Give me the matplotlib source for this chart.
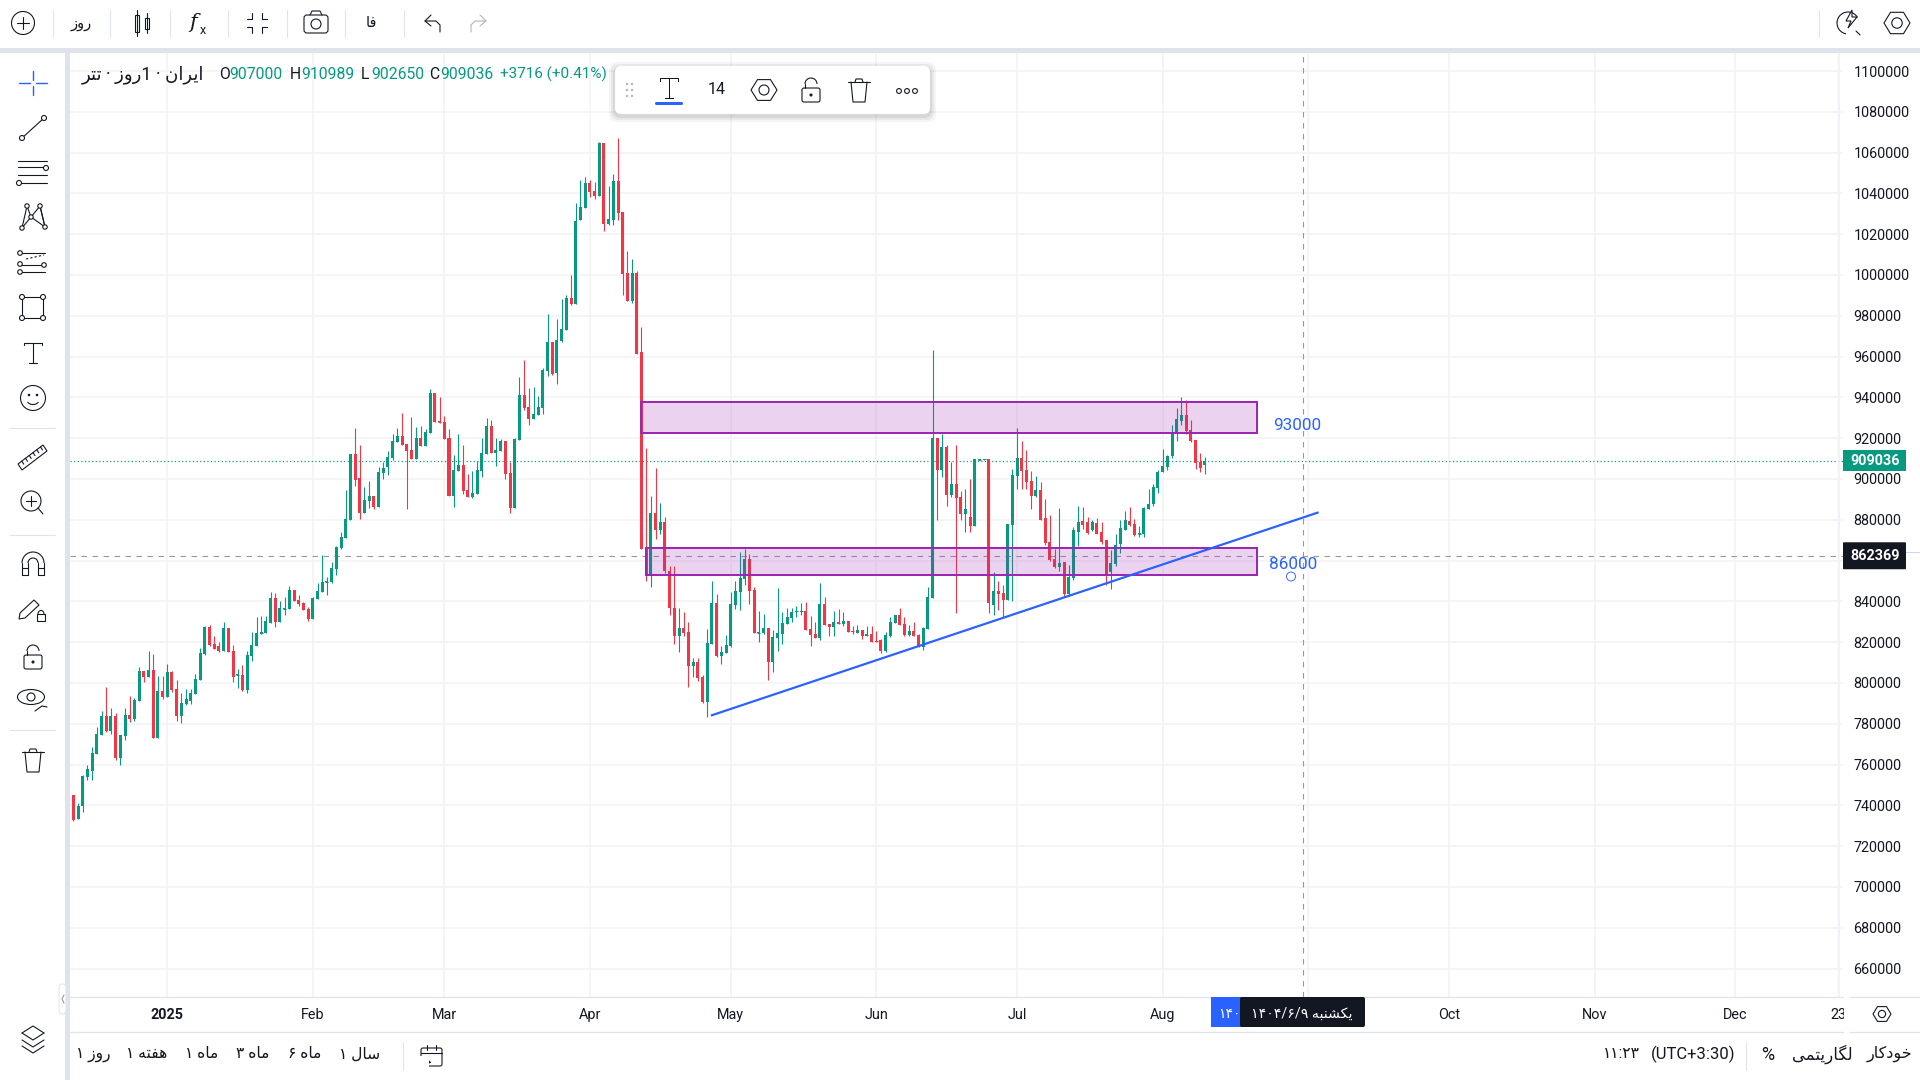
import matplotlib
matplotlib.use("Agg")
import matplotlib.pyplot as plt
from matplotlib.patches import Arc, Circle, Ellipse, FancyBboxPatch, Polygon, Rectangle
import numpy as np
import pandas as pd

plt.rcParams['font.family'] = ['Roboto', 'DejaVu Sans']

# daily candles, prices in thousands
first_date = "2024-12-11"
opens = [740.2,745.1,733.4,739.5,753.9,756.8,765.2,774.6,783.8,776.4,
         783.8,763.3,774.0,784.3,782.5,791.3,805.9,803.0,806.3,773.0,
         796.0,793.0,805.4,797.1,783.8,789.7,791.3,794.6,801.4,814.2,
         827.5,819.2,818.1,815.8,827.0,815.8,803.8,803.9,796.7,813.3,
         818.1,824.1,824.6,829.5,841.7,830.0,836.3,836.3,845.5,840.8,
         839.2,836.3,831.3,841.2,844.6,849.3,849.6,855.9,866.0,871.2,
         880.0,912.4,900.4,883.1,889.2,891.6,886.2,902.9,905.8,910.3,
         918.2,921.1,917.3,914.2,909.9,920.2,916.3,922.5,942.2,928.3,
         927.9,920.2,891.7,903.9,906.8,894.6,891.3,892.6,903.9,912.2,
         926.0,912.8,913.8,918.6,902.9,885.9,919.2,941.3,935.3,929.5,
         931.4,934.9,952.9,967.3,951.8,967.6,973.1,988.8,985.9,1027.0,
         1032.8,1045.2,1041.1,1038.8,1064.7,1025.0,1027.0,1046.1,1030.8,1001.0,
         987.2,1001.0,962.2,866.5,853.5,883.3,875.0,878.9,854.7,837.0,
         823.1,826.9,825.0,808.3,810.3,802.9,790.8,819.1,839.2,813.2,
         814.9,818.1,838.2,844.6,851.0,860.8,845.6,824.5,824.5,827.0,
         810.3,822.0,824.0,828.9,831.8,834.9,835.0,835.3,826.5,824.0,
         822.0,838.7,828.9,827.4,829.9,828.9,830.4,825.5,824.5,826.0,
         823.0,824.0,820.6,821.0,815.7,823.0,829.4,833.3,828.9,823.5,
         825.5,823.5,817.6,826.5,841.7,920.1,904.4,915.7,892.1,897.5,
         891.2,882.8,881.4,877.0,909.3,909.5,909.8,838.2,845.1,844.1,
         840.7,877.4,901.5,910.3,904.4,899.0,891.7,894.6,880.9,869.1,
         860.8,856.9,859.3,843.6,851.5,874.0,879.4,878.9,875.0,878.4,
         874.0,870.1,854.4,858.3,868.1,875.0,879.4,877.9,873.0,873.0,
         885.3,887.7,895.6,903.4,905.9,911.3,922.5,928.4,931.4,924.0,
         919.1,908.3,907.0]
highs = [745.1,745.1,741.3,755.0,759.7,768.8,778.4,786.3,797.9,787.7,
         785.4,774.6,787.7,793.7,792.6,807.9,805.9,815.8,814.2,803.4,
         803.4,809.3,805.9,801.4,795.1,797.1,797.1,804.5,817.1,828.0,
         828.4,823.0,820.1,830.0,827.0,818.7,806.8,808.8,815.8,825.0,
         832.5,833.0,833.0,844.6,844.2,840.3,842.1,847.5,845.5,843.3,
         839.6,837.2,842.1,849.1,862.8,852.0,859.2,867.1,874.1,894.6,
         912.4,925.0,916.6,896.1,899.0,891.6,905.8,908.3,913.8,922.1,
         925.0,932.4,917.3,930.4,925.6,926.0,924.4,944.2,942.2,940.1,
         930.8,924.6,911.8,922.1,916.7,902.5,903.9,908.9,920.2,929.9,
         928.9,920.2,919.6,918.6,908.3,920.2,950.0,958.3,944.6,945.2,
         940.7,954.5,980.8,967.3,978.5,988.2,990.1,1000.0,1035.3,1046.5,
         1048.1,1046.5,1045.6,1065.1,1064.7,1043.6,1049.4,1067.1,1030.8,1011.8,
         1007.8,1002.0,974.4,915.1,891.7,905.4,888.0,881.2,857.4,857.4,
         836.8,834.9,829.9,812.4,812.4,803.9,826.5,850.0,843.6,818.1,
         823.5,844.6,850.0,864.2,865.7,863.2,847.1,835.3,833.8,827.0,
         825.9,846.6,834.8,836.8,836.8,837.9,839.2,839.7,832.8,829.9,
         849.0,842.1,828.9,835.3,836.3,834.8,830.4,827.9,828.4,826.0,
         827.9,827.9,825.5,821.6,825.0,832.3,833.3,836.8,832.3,828.4,
         829.9,824.0,827.4,847.1,963.2,920.1,922.0,916.7,908.3,916.7,
         894.1,895.1,900.0,909.8,910.0,910.0,909.8,854.4,850.0,848.0,
         877.9,904.9,925.0,918.6,914.2,903.9,901.5,898.5,890.2,882.3,
         865.7,885.8,859.3,857.8,876.5,886.8,886.3,881.4,879.9,880.9,
         878.9,870.1,865.2,873.0,879.9,884.3,886.3,880.4,876.9,886.3,
         895.1,897.5,904.4,914.7,911.8,926.5,934.8,940.2,938.7,928.9,
         919.1,912.8,910.989]
lows = [740.2,732.3,733.4,736.8,752.6,752.6,765.2,774.6,775.9,775.1,
        762.2,759.7,772.1,780.9,781.4,791.3,800.5,803.0,773.0,773.0,
        792.1,793.0,795.8,781.4,780.5,789.2,789.7,794.6,801.4,813.5,
        818.3,816.7,815.1,815.8,815.1,800.5,797.6,796.2,795.1,810.8,
        818.1,824.1,824.6,829.5,827.5,830.0,833.4,836.3,840.1,837.9,
        835.8,830.4,831.3,841.2,844.6,843.3,849.1,852.9,865.5,871.2,
        879.9,896.6,880.6,883.1,885.6,885.3,886.2,900.0,901.9,909.3,
        918.2,916.7,885.3,909.9,909.9,916.3,916.3,922.5,927.9,927.3,
        919.6,891.7,886.2,903.9,892.6,891.3,890.7,892.6,901.0,912.2,
        912.8,906.4,913.8,900.0,883.5,885.9,919.2,933.9,926.6,929.5,
        931.4,931.8,950.6,950.9,946.5,967.3,973.1,985.3,985.9,1027.0,
        1032.8,1038.2,1037.2,1038.8,1021.5,1024.4,1024.4,1027.0,990.1,987.2,
        986.2,961.3,865.7,850.0,847.1,870.6,873.1,854.1,833.5,819.2,
        815.3,823.1,798.0,802.8,801.0,790.0,783.3,819.1,812.6,809.3,
        814.9,817.5,836.3,835.8,848.0,838.7,824.5,820.1,824.0,801.5,
        805.4,815.7,819.1,828.9,829.9,832.3,833.3,826.0,818.1,822.0,
        821.0,828.4,823.0,823.0,828.9,827.9,825.0,824.0,824.5,821.6,
        823.0,820.1,820.1,814.7,815.2,822.5,829.4,828.4,823.0,823.0,
        823.0,817.6,816.2,826.5,841.7,879.9,901.0,886.8,891.2,834.3,
        879.9,874.0,874.0,877.0,909.3,909.5,834.3,833.3,835.8,832.3,
        840.7,840.2,895.1,895.1,895.1,885.3,891.2,879.9,867.6,859.8,
        856.4,854.9,842.1,842.6,850.5,867.1,875.5,873.0,874.5,873.0,
        868.1,848.0,846.1,857.4,863.7,875.0,876.9,872.0,871.6,871.6,
        885.3,886.8,893.1,903.4,904.4,910.3,918.6,926.5,922.0,918.1,
        904.9,903.4,902.65]
closes = [745.1,733.0,739.7,754.3,757.9,765.6,775.1,783.8,776.4,783.8,
          763.3,774.6,784.3,782.5,791.7,805.9,803.0,806.3,773.0,796.0,
          793.0,805.4,796.7,783.8,790.1,792.1,795.1,802.0,814.7,827.5,
          818.7,816.7,815.8,827.0,815.1,803.0,804.2,796.7,813.8,818.7,
          824.6,825.0,830.4,841.7,830.0,836.7,836.7,845.5,840.1,838.8,
          835.8,831.3,841.7,845.1,849.6,849.8,856.3,866.6,871.6,880.4,
          912.4,899.7,883.1,889.6,891.6,886.2,903.4,905.4,910.9,918.6,
          921.1,916.7,913.8,909.9,920.2,916.3,923.1,942.2,927.9,927.7,
          919.6,891.7,904.5,906.8,894.2,891.3,893.2,904.5,912.8,926.0,
          912.8,914.2,918.6,902.5,885.9,919.6,941.3,934.7,929.5,931.8,
          935.3,953.5,967.3,951.4,968.2,973.5,988.8,985.9,1026.6,1033.3,
          1045.2,1040.7,1038.8,1064.7,1025.0,1027.5,1046.1,1030.4,1000.6,987.2,
          1001.0,961.3,865.7,852.7,883.3,875.0,878.9,854.7,837.0,823.1,
          826.9,824.6,808.3,810.3,802.3,790.5,819.6,839.2,813.2,815.2,
          818.6,838.7,845.1,851.5,860.8,845.1,824.5,825.0,827.0,810.3,
          822.5,824.5,829.4,832.3,834.8,835.3,835.3,826.0,823.5,822.0,
          838.7,828.4,827.4,829.9,828.9,830.4,825.0,825.0,826.0,823.0,
          824.0,820.1,820.1,815.7,823.5,829.9,833.3,828.4,823.5,825.5,
          823.0,817.6,826.9,842.1,920.1,904.4,915.7,892.1,897.5,890.7,
          882.8,885.3,877.0,909.8,909.8,909.8,839.2,845.1,843.6,840.7,
          877.9,902.0,910.3,903.9,898.5,891.7,894.6,879.9,868.6,860.3,
          856.9,858.8,843.6,851.9,875.0,878.9,877.4,873.5,878.9,873.0,
          869.1,852.4,858.8,867.6,876.0,879.9,877.4,872.5,873.5,885.8,
          887.7,896.1,903.4,906.4,911.3,922.5,929.4,931.4,923.5,918.6,
          907.8,905.32,909.036]

price_ticks = list(range(660000, 1100001, 20000))
month_dates = ["2025-01-01", "2025-02-01", "2025-03-01", "2025-04-01", "2025-05-01", "2025-06-01", "2025-07-01",
               "2025-08-01", "2025-09-01", "2025-10-01", "2025-11-01", "2025-12-01", "2025-12-23"]
# Sep sits under the crosshair date tag, so only its grid line shows
month_labels = ["2025", "Feb", "Mar", "Apr", "May", "Jun", "Jul", "Aug", "", "Oct", "Nov", "Dec", "23"]

# drawings on the chart: zones as (left, right, low, high), trend line as two anchors
upper_zone = ("2025-04-12", "2025-08-21", 922500, 937900)
lower_zone = ("2025-04-13", "2025-08-21", 852900, 866300)
trend_dates = ["2025-04-27", "2025-09-03"]
trend_prices = [784200, 883500]
crosshair_date = "2025-08-31"
crosshair_price = 862369

GREEN = "#089981"
RED = "#F23645"
BLUE = "#2962FF"
PURPLE = "#9C27B0"
INK = "#131722"
BAND = "#E0E3EB"
GRID = "#F2F3F6"
PX = 0.72  # one pixel in points at dpi 100

base = pd.Timestamp("2025-01-01")


def day(date):
    return (pd.Timestamp(date) - base).days


# minimal Persian shaping, strings are then laid out left to right
DUAL = {'ب': 0xFE8F, 'ت': 0xFE95, 'خ': 0xFEA5, 'س': 0xFEB1, 'ش': 0xFEB5, 'ف': 0xFED1, 'ک': 0xFB8E,
        'گ': 0xFB92, 'ل': 0xFEDD, 'م': 0xFEE1, 'ن': 0xFEE5, 'ه': 0xFEE9, 'ی': 0xFBFC}
RIGHT = {'ا': 0xFE8D, 'د': 0xFEA9, 'ر': 0xFEAD, 'ز': 0xFEAF, 'و': 0xFEED}


def fa(text):
    out = []
    for i, ch in enumerate(text):
        if ch not in DUAL and ch not in RIGHT:
            out.append(ch)
            continue
        before = i > 0 and text[i - 1] in DUAL
        after = ch in DUAL and i + 1 < len(text) and (text[i + 1] in DUAL or text[i + 1] in RIGHT)
        form = {(False, False): 0, (True, False): 1, (False, True): 2, (True, True): 3}[(before, after)]
        out.append(chr((DUAL.get(ch) or RIGHT[ch]) + form))
    return "".join(reversed(out))


o = np.array(opens) * 1000
h = np.array(highs) * 1000
l = np.array(lows) * 1000
c = np.array(closes) * 1000
x = (pd.date_range(first_date, periods=len(o)) - base).days.to_numpy()
up = c >= o

fig = plt.figure(figsize=(19.2, 10.8), dpi=100, facecolor="white")
# pane is 70..1843 px wide and 53..997 px tall
ax = fig.add_axes([70 / 1920, 1 - 997 / 1080, (1843 - 70) / 1920, (997 - 53) / 1080])
ax.set_xlim((70 - 167.3) / 4.695, (1843 - 167.3) / 4.695)
ax.set_ylim(1100000 - (997 - 71) * 490.2, 1100000 + (71 - 53) * 490.2)
for s in ax.spines.values():
    s.set_visible(False)
ax.grid(True, color=GRID, lw=1.5 * PX)
ax.set_axisbelow(True)
ax.yaxis.tick_right()
ax.set_yticks(price_ticks)
# the 860000 label sits under the crosshair price tag
ax.set_yticklabels(["" if p == 860000 else str(p) for p in price_ticks], fontsize=10.4, color=INK)
ax.set_xticks([day(d) for d in month_dates])
ax.set_xticklabels(month_labels, fontsize=10.4, color=INK)
ax.get_xticklabels()[0].set_fontweight("bold")
ax.tick_params(length=0)
ax.tick_params(axis="y", pad=7.5)
ax.tick_params(axis="x", pad=8)

# candles
colors = np.where(up, GREEN, RED)
ax.vlines(x, l, h, colors=colors, lw=1.1 * PX, zorder=3)
ax.bar(x, np.abs(c - o), bottom=np.minimum(o, c), width=0.64, color=colors, lw=0, zorder=3)
thin = np.abs(c - o) < 1500
ax.hlines((o[thin] + c[thin]) / 2, x[thin] - 0.32, x[thin] + 0.32, colors=colors[thin], lw=1.1 * PX, zorder=3)

# last price and crosshair guides
ax.axhline(c[-1], color=GREEN, lw=1.2 * PX, ls=(0, (1, 2)), zorder=2.5)
ax.axhline(crosshair_price, color="#9598A1", lw=1.1 * PX, ls=(0, (5, 5)), zorder=2.5)
ax.axvline(day(crosshair_date), color="#9598A1", lw=1.1 * PX, ls=(0, (5, 5)), zorder=2.5)

# zones and trend line
for left, right, low, high in (upper_zone, lower_zone):
    ax.add_patch(Rectangle((day(left), low), day(right) - day(left), high - low, fc=(0.612, 0.153, 0.69, 0.2),
                           ec=PURPLE, lw=2 * PX, zorder=4))
ax.plot([day(d) for d in trend_dates], trend_prices, color=BLUE, lw=2.2 * PX, zorder=4.5)
ax.text(235.6, 926200, "93000", color=BLUE, fontsize=12.3, va="center", zorder=5)
ax.text(234.6, 858100, "86000", color=BLUE, fontsize=12.3, va="center", zorder=5)

# interface layer in pixel coordinates
ui = fig.add_axes([0, 0, 1, 1], zorder=5)
ui.set_xlim(0, 1920)
ui.set_ylim(1080, 0)
ui.axis("off")
ui.patch.set_alpha(0)


def seg(*pts, color=INK, lw=1.1, ls="-"):
    ui.plot([p[0] for p in pts], [p[1] for p in pts], color=color, lw=lw * PX, ls=ls, solid_capstyle="round")


def ring(cx, cy, r, ec=INK, fc="white", lw=1.1):
    ui.add_patch(Circle((cx, cy), r, ec=ec, fc=fc, lw=lw * PX, zorder=3))


def label(px, py, text, color=INK, size=10.4, ha="center", weight="normal"):
    ui.text(px, py, text, color=color, fontsize=size, ha=ha, va="center", fontweight=weight, zorder=6)


def hexagon(cx, cy, r=12):
    a = np.radians(np.arange(0, 360, 60))
    ui.add_patch(Polygon(np.c_[cx + r * np.cos(a), cy + r * 0.95 * np.sin(a)], fc="none", ec=INK, lw=1.1 * PX))
    ring(cx, cy, r * 0.4, fc="none")


def trash(cx, cy):
    seg((cx - 11, cy - 9), (cx + 11, cy - 9))
    seg((cx - 4, cy - 9), (cx - 3, cy - 12), (cx + 3, cy - 12), (cx + 4, cy - 9))
    seg((cx - 8, cy - 9), (cx - 6, cy + 11), (cx + 6, cy + 11), (cx + 8, cy - 9))


def lock(cx, cy):
    ui.add_patch(FancyBboxPatch((cx - 9, cy - 3), 18, 14, boxstyle="round,pad=0,rounding_size=2",
                                fc="none", ec=INK, lw=1.1 * PX))
    ui.add_patch(Arc((cx, cy - 7), 12, 12, theta1=180, theta2=360, ec=INK, lw=1.1 * PX))
    seg((cx - 6, cy - 7), (cx - 6, cy - 3))
    ring(cx, cy + 4, 1, fc=INK)


# frame bands around the pane
ui.add_patch(Rectangle((0, 48), 1920, 5, fc=BAND, ec="none"))
ui.add_patch(Rectangle((65, 48), 5, 1032, fc=BAND, ec="none"))
ui.add_patch(FancyBboxPatch((-10, 53), 75, 1040, boxstyle="round,pad=0,rounding_size=5", fc="white", ec="none"))
seg((70, 997), (1920, 997), color=BAND, lw=1.3)
seg((70, 1032), (1920, 1032), color=BAND, lw=1.3)
seg((1838, 53), (1838, 997), color="#F0F1F5", lw=1.2)
ui.add_patch(FancyBboxPatch((59, 984), 7, 30, boxstyle="round,pad=0,rounding_size=3", fc="white", ec=BAND, lw=PX))
seg((64, 995), (62, 999), (64, 1003), color="#9598A1")

# top bar
for sx in (53, 110, 170, 228, 287, 345, 404, 1819):
    seg((sx, 10), (sx, 37), color=BAND)
ring(23, 23, 11.5, fc="none")
seg((17, 23), (29, 23))
seg((23, 17), (23, 29))
label(81, 24, fa("روز"), size=10.5)
ui.add_patch(Rectangle((135, 15), 4, 17, fc="white", ec=INK, lw=1.1 * PX))
seg((137, 10), (137, 36))
ui.add_patch(Rectangle((145, 18), 4, 11, fc="white", ec=INK, lw=1.1 * PX))
seg((147, 13), (147, 33))
ui.text(193, 22, "f", fontsize=15, style="italic", color=INK, ha="center", va="center", fontfamily="DejaVu Serif")
ui.text(203, 30, "x", fontsize=9, color=INK, ha="center", va="center")
for sx, sy in ((-1, -1), (1, -1), (-1, 1), (1, 1)):
    seg((257 + 10 * sx, 23 + 4 * sy), (257 + 5 * sx, 23 + 4 * sy), (257 + 5 * sx, 23 + 10 * sy))
ui.add_patch(FancyBboxPatch((304, 15), 24, 18, boxstyle="round,pad=0,rounding_size=3", fc="white", ec=INK, lw=1.1 * PX))
seg((310, 15), (312, 11), (320, 11), (322, 15))
ring(316, 24, 5)
label(371, 23, fa("فا"), size=10.5)
seg((431, 15), (425, 21), (431, 26))
seg((425, 21), (436, 21), (440, 25), (440, 32))
seg((480, 15), (486, 21), (480, 26), color="#B2B5BE")
seg((486, 21), (475, 21), (471, 25), (471, 32), color="#B2B5BE")
ui.add_patch(Arc((1848, 23), 22, 22, theta1=100, theta2=330, ec=INK, lw=1.1 * PX))
seg((1856, 31), (1860, 35))
ui.add_patch(Polygon([(1852, 10), (1846, 21), (1851, 21), (1848, 28), (1857, 17), (1852, 17)], fc="white", ec=INK,
                     lw=1.1 * PX, zorder=4))
hexagon(1897, 23, 13)

# left tool column
for a, b in (((19, 83), (30, 83)), ((36, 83), (47, 83)), ((33, 71), (33, 80)), ((33, 86), (33, 95))):
    seg(a, b, color=BLUE, lw=1.4)
seg((22, 138), (44, 118))
ring(22, 138, 2.5)
ring(44, 118, 2.5)
for fy in (161, 167, 175, 183):
    seg((18, fy), (47, fy))
ring(46, 168, 2.5)
ring(19, 183, 2.5)
net = [(22, 228), (27, 206), (31, 217), (40, 206), (45, 227), (31, 217), (22, 228)]
seg(*net)
seg((40, 206), (45, 227))
for n in net[:5]:
    ring(n[0], n[1], 2.2)
seg((21, 253), (45, 253))
seg((26, 259), (44, 255), ls=(0, (2, 2)))
seg((21, 265), (45, 265))
seg((21, 272), (45, 272))
for n in ((20, 253), (20, 264), (44, 265), (20, 272)):
    ring(n[0], n[1], 2.3)
ui.add_patch(Rectangle((22, 297), 21, 21, fc="none", ec=INK, lw=1.1 * PX))
for n in ((22, 297), (43, 297), (22, 318), (43, 318)):
    ring(n[0], n[1], 2.5)
seg((24, 345), (24, 343), (42, 343), (42, 345))
seg((33, 343), (33, 363))
seg((29, 363), (37, 363))
ring(33, 398, 12.5, fc="none")
ring(29, 395, 0.7, fc=INK)
ring(37, 395, 0.7, fc=INK)
ui.add_patch(Arc((33, 400), 12, 9, theta1=20, theta2=160, ec=INK, lw=1.1 * PX))
for sy in (428, 535, 730):
    seg((10, sy), (55, sy), color=BAND)
ui.add_patch(Polygon([(18, 464), (43, 445), (47, 451), (22, 470)], fc="none", ec=INK, lw=1.1 * PX))
for t in (0.15, 0.3, 0.45, 0.6, 0.75, 0.9):
    mx, my = 18 + 25 * t, 464 - 19 * t
    seg((mx, my), (mx + 2, my + 3))
ring(31, 501, 10, fc="none")
seg((26, 501), (36, 501))
seg((31, 496), (31, 506))
seg((38, 508), (43, 514))
ui.add_patch(Arc((33, 563), 22, 22, theta1=180, theta2=360, ec=INK, lw=1.1 * PX))
ui.add_patch(Arc((33, 563), 10, 10, theta1=180, theta2=360, ec=INK, lw=1.1 * PX))
seg((22, 563), (22, 575), (28, 575), (28, 563))
seg((38, 563), (38, 575), (44, 575), (44, 563))
seg((22, 568), (28, 568))
seg((38, 568), (44, 568))
ui.add_patch(Polygon([(20, 613), (34, 600), (39, 605), (25, 618), (19, 619)], fc="none", ec=INK, lw=1.1 * PX))
ui.add_patch(Rectangle((37, 614), 8, 7, fc="white", ec=INK, lw=1.1 * PX))
ui.add_patch(Arc((41, 614), 6, 7, theta1=180, theta2=360, ec=INK, lw=1.1 * PX))
lock(33, 658)
ui.add_patch(Ellipse((31, 697), 27, 15, fc="none", ec=INK, lw=1.1 * PX))
ring(31, 697, 4)
seg((35, 711), (42, 706), (47, 707))
trash(33, 761)

# layers icon
for ly in (1033, 1040, 1046):
    seg((22, ly), (33, ly + 7), (44, ly))
seg((22, 1033), (33, 1026), (44, 1033))

# time axis overlays
ui.add_patch(Rectangle((1211, 997), 32, 30, fc=BLUE, ec="none", zorder=5))
ui.add_patch(FancyBboxPatch((1240, 997), 125, 30, boxstyle="round,pad=0,rounding_size=2", fc=INK, ec="none", zorder=5))
label(1229, 1014, "۱۴۰", color="white", size=10)
label(1302, 1014, "۱۴۰۴/۶/۹ " + fa("یکشنبه"), color="white", size=10.2)
hexagon(1882, 1014, 9)
seg((1847, 997), (1847, 1032), color="white", lw=6)

# bottom bar
for cx, word in ((93, "روز ۱"), (147, "هفته ۱"), (202, "ماه ۱"), (253, "ماه ۳"), (305, "ماه ۶"), (360, "سال ۱")):
    label(cx, 1054, fa(word), size=11.2)
seg((403, 1042), (403, 1070), color=BAND)
ui.add_patch(FancyBboxPatch((421, 1048), 21, 18, boxstyle="round,pad=0,rounding_size=2", fc="none", ec=INK, lw=1.1 * PX))
seg((421, 1053), (442, 1053))
seg((427, 1045), (427, 1050))
seg((436, 1045), (436, 1050))
ui.add_patch(Rectangle((418, 1056), 11, 12, fc="white", ec="none", zorder=3))
seg((420, 1062), (430, 1062))
seg((426, 1058), (430, 1062), (426, 1066))
label(1735, 1054, "(UTC+3:30)", size=12, ha="right")
label(1621, 1054, "۱۱:۲۳", size=11.2)
seg((1746, 1042), (1746, 1070), color=BAND)
label(1768, 1055, "%", size=13)
label(1822, 1054, fa("لگاریتمی"), size=12)
label(1889, 1054, fa("خودکار"), size=11.6)

# header line
label(82, 75, fa("تتر") + " · " + fa("روز") + "1 · " + fa("ایران"), size=13, ha="left")
last = -1
header_parts = [(219, "O", INK), (229, f"{o[last]:.0f}", GREEN), (290, "H", INK), (301, f"{h[last]:.0f}", GREEN),
                (361, "L", INK), (371, f"{l[last]:.0f}", GREEN), (429, "C", INK), (440, f"{c[last]:.0f}", GREEN)]
for hx, hs, hc in header_parts:
    label(hx, 74.5, hs, color=hc, size=11.3, ha="left")
change = c[-1] - c[-2]
label(500, 74.5, f"{change:+.0f} ({change / c[-2] * 100:+.2f}%)", color=GREEN, size=11, ha="left")

# floating drawing toolbar with a soft shadow
for grow, alpha in ((6, 0.04), (4, 0.05), (2, 0.07)):
    ui.add_patch(FancyBboxPatch((615 - grow, 66 - grow + 2), 315 + 2 * grow, 48 + 2 * grow,
                                boxstyle="round,pad=0,rounding_size=8", fc="black", ec="none", alpha=alpha, zorder=4))
ui.add_patch(FancyBboxPatch((615, 66), 315, 48, boxstyle="round,pad=0,rounding_size=6", fc="white", ec="none", zorder=4))
for gx in (627, 632):
    for gy in (84, 90, 96):
        ui.add_patch(Circle((gx, gy), 1.2, fc="#B2B5BE", ec="none", zorder=5))
ui.add_patch(FancyBboxPatch((655, 102), 28, 3, boxstyle="round,pad=0,rounding_size=1.5", fc=BLUE, ec="none", zorder=5))
ui.plot([660, 660, 678, 678], [81, 78, 78, 81], color=INK, lw=PX, zorder=5)
ui.plot([669, 669], [78, 98], color=INK, lw=PX, zorder=5)
ui.plot([665, 673], [98, 98], color=INK, lw=PX, zorder=5)
label(717, 89, "14", size=11.5)
a = np.radians(np.arange(0, 360, 60))
ui.add_patch(Polygon(np.c_[764 + 13 * np.cos(a), 90 + 12 * np.sin(a)], fc="white", ec=INK, lw=1.1 * PX, zorder=5))
ui.add_patch(Circle((764, 90), 5, fc="white", ec=INK, lw=1.1 * PX, zorder=5))
lock(811, 91)
trash(859, 91)
for art in ui.patches[-6:] + ui.lines[-6:]:
    art.set_zorder(5)
for dx in (899, 907, 915):
    ui.add_patch(Circle((dx, 91), 2.4, fc="white", ec=INK, lw=1.1 * PX, zorder=5))


# price axis tags, placed from the price scale
def price_px(price):
    return 1080 - ax.transData.transform((0, price))[1]


last_y = price_px(c[-1])
ui.add_patch(Rectangle((1843, last_y - 10.5), 63, 21, fc=GREEN, ec="none", zorder=5))
label(1875, last_y, f"{c[-1]:.0f}", color="white", size=10.4, weight="bold")
cross_y = price_px(crosshair_price)
ui.add_patch(FancyBboxPatch((1843, cross_y - 13.5), 63, 27, boxstyle="round,pad=0,rounding_size=1", fc=INK, ec="none", zorder=5))
label(1875, cross_y, str(crosshair_price), color="white", size=10.4, weight="bold")
ui.plot([1906, 1920], [552, 552], color="#C9D6FF", lw=PX)
ui.add_patch(Circle((1291, 576.5), 4.5, fc="none", ec=BLUE, lw=0.9 * PX, zorder=5))

fig.savefig("out.png", dpi=100)
